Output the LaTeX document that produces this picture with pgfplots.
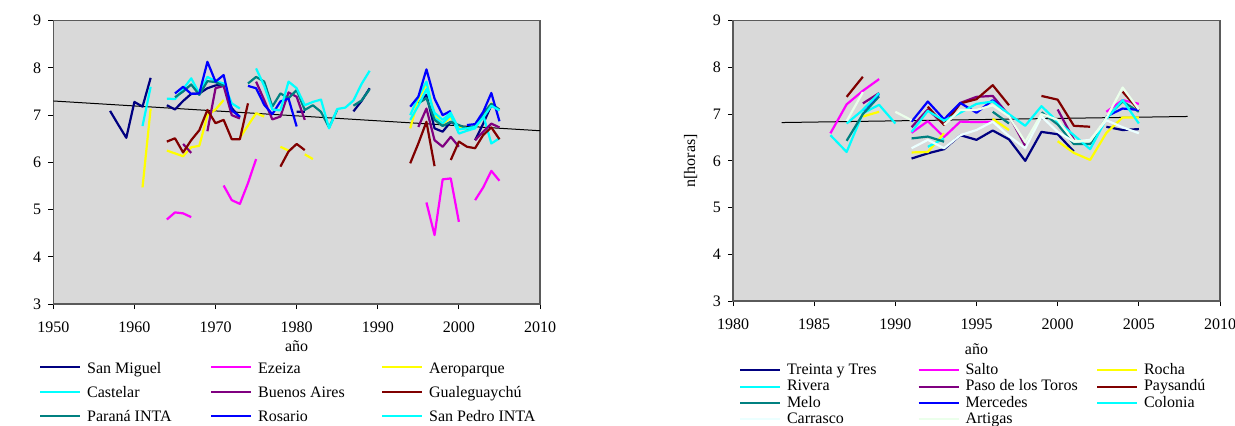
\documentclass[border=0pt]{standalone}
\usepackage{fontspec}
\setmainfont{Liberation Serif}
\usepackage{pgfplots}
\pgfplotsset{compat=1.18}

\definecolor{cNavy}{RGB}{0,0,128}
\definecolor{cMag}{RGB}{255,0,255}
\definecolor{cYel}{RGB}{255,255,0}
\definecolor{cCyan}{RGB}{0,255,255}
\definecolor{cPurp}{RGB}{128,0,128}
\definecolor{cMaroon}{RGB}{128,0,0}
\definecolor{cTeal}{RGB}{0,128,128}
\definecolor{cBlue}{RGB}{0,0,255}
\definecolor{cCarr}{RGB}{235,255,255}
\definecolor{cArt}{RGB}{235,255,235}
\definecolor{bgGray}{RGB}{217,217,217}
\definecolor{frameGray}{RGB}{90,90,90}

\pgfplotsset{
  base/.style={
    scale only axis,
    axis background/.style={fill=bgGray},
    axis line style={draw=frameGray, line width=0.6pt},
    tick align=outside,
    major tick length=2.5pt,
    tick style={draw=black, line width=0.5pt},
    xtick pos=bottom, ytick pos=left,
    ymin=3, ymax=9, ytick={3,4,5,6,7,8,9},
    /pgf/number format/assume math mode=true,
    /pgf/number format/1000 sep={},
    ticklabel style={font=\fontsize{8}{9.6}\selectfont},
    xticklabel style={yshift=-3pt},
    label style={font=\fontsize{8}{9.6}\selectfont},
    unbounded coords=jump,
    every axis plot/.append style={line width=1.1pt, line join=round},
    legend columns=3,
    legend image code/.code={\draw[##1,line width=1pt] (0pt,0pt) -- (20pt,0pt);},
  },
  trend/.style={black, line width=0.5pt, forget plot},
}

\begin{document}
\begin{tikzpicture}
\useasboundingbox (0,0) rectangle (617.5pt,212.5pt);

% ---------------- left panel ----------------
\begin{axis}[base,
  at={(26.65pt,60.5pt)}, anchor=south west,
  width=243.35pt, height=141.65pt,
  xmin=1950, xmax=2010, xtick={1950,1960,1970,1980,1990,2000,2010},
  xlabel={año}, xlabel style={yshift=3pt},
  legend style={at={(-0.0290,-0.1814)}, anchor=north west, draw=none, fill=none,
    inner sep=0pt, outer sep=0pt, row sep=0pt, column sep=0pt,
    font=\fontsize{8}{9.6}\selectfont,
    nodes={inner sep=0pt, text depth=3pt, text height=9.1pt}, cells={anchor=west}},
]
\addplot[trend] coordinates {(1950,7.30) (2010,6.67)};
\addplot[cNavy] coordinates {(1957,7.09)(1958,6.80)(1959,6.52)(1960,7.28)(1961,7.18)(1962,7.79)(1963,nan)(1964,7.21)(1965,7.12)(1966,7.30)(1967,7.45)(1968,7.46)(1969,7.57)(1970,7.63)(1971,7.64)(1972,7.15)(1973,6.95)(1974,nan)(1980,7.07)(1981,7.07)(1982,nan)(1987,7.08)(1988,7.30)(1989,7.57)(1990,nan)(1995,7.25)(1996,7.43)(1997,6.72)(1998,6.65)(1999,6.86)(2000,6.75)(2001,nan)(2002,6.47)(2003,6.82)(2004,7.21)(2005,7.11)};
\addlegendentry{\makebox[64.5pt][l]{\hspace{3pt}San Miguel}}
\addplot[cMag] coordinates {(1964,4.79)(1965,4.94)(1966,4.92)(1967,4.84)(1968,nan)(1971,5.51)(1972,5.20)(1973,5.12)(1974,5.56)(1975,6.07)(1976,nan)(1996,5.15)(1997,4.46)(1998,5.64)(1999,5.66)(2000,4.74)(2001,nan)(2002,5.20)(2003,5.47)(2004,5.82)(2005,5.61)};
\addlegendentry{\makebox[64.5pt][l]{\hspace{3pt}Ezeiza}}
\addplot[cYel] coordinates {(1961,5.47)(1962,7.14)(1963,nan)(1964,6.25)(1965,6.19)(1966,6.13)(1967,6.32)(1968,6.35)(1969,7.00)(1970,7.12)(1971,7.32)(1972,nan)(1973,6.52)(1974,6.78)(1975,7.04)(1976,6.97)(1977,nan)(1978,6.33)(1979,6.25)(1980,nan)(1981,6.17)(1982,6.07)(1983,nan)(1994,6.72)(1995,7.33)(1996,7.67)(1997,7.00)(1998,6.82)(1999,6.95)(2000,6.75)(2001,6.70)(2002,6.75)(2003,6.98)(2004,7.25)(2005,7.11)};
\addlegendentry{\makebox[64.5pt][l]{\hspace{3pt}Aeroparque}}
\addplot[cCyan] coordinates {(1961,6.77)(1962,7.60)(1963,nan)(1964,7.35)(1965,7.34)(1966,7.55)(1967,7.78)(1968,7.46)(1969,7.81)(1970,7.72)(1971,7.67)(1972,7.25)(1973,7.14)(1974,nan)(1994,7.00)(1995,7.39)(1996,7.71)(1997,6.94)(1998,6.83)(1999,7.00)(2000,6.61)(2001,6.67)(2002,6.72)(2003,7.00)(2004,6.40)(2005,6.51)};
\addlegendentry{\makebox[64.5pt][l]{\hspace{3pt}Castelar}}
\addplot[cPurp] coordinates {(1966,6.39)(1967,6.20)(1968,nan)(1969,6.66)(1970,7.57)(1971,7.62)(1972,7.00)(1973,6.93)(1974,nan)(1975,7.71)(1976,7.32)(1977,6.91)(1978,6.97)(1979,7.48)(1980,7.39)(1981,6.90)(1982,nan)(1995,6.75)(1996,7.14)(1997,6.47)(1998,6.33)(1999,6.54)(2000,6.33)(2001,nan)(2002,6.47)(2003,6.65)(2004,6.82)(2005,6.74)};
\addlegendentry{\makebox[64.5pt][l]{\hspace{3pt}Buenos Aires}}
\addplot[cMaroon] coordinates {(1964,6.44)(1965,6.51)(1966,6.21)(1967,6.47)(1968,6.68)(1969,7.11)(1970,6.83)(1971,6.90)(1972,6.49)(1973,6.49)(1974,7.25)(1975,nan)(1978,5.91)(1979,6.23)(1980,6.39)(1981,6.26)(1982,nan)(1994,5.98)(1995,6.40)(1996,6.86)(1997,5.92)(1998,nan)(1999,6.05)(2000,6.44)(2001,6.33)(2002,6.30)(2003,6.58)(2004,6.74)(2005,6.49)};
\addlegendentry{\makebox[64.5pt][l]{\hspace{3pt}Gualeguaychú}}
\addplot[cTeal] coordinates {(1965,7.38)(1966,7.50)(1967,7.65)(1968,7.43)(1969,7.72)(1970,7.70)(1971,7.62)(1972,nan)(1974,7.67)(1975,7.81)(1976,7.71)(1977,7.18)(1978,7.46)(1979,7.36)(1980,7.53)(1981,7.11)(1982,7.21)(1983,7.07)(1984,6.74)(1985,7.11)(1986,nan)(1987,7.20)(1988,7.31)(1989,7.55)(1990,nan)(1995,7.25)(1996,7.36)(1997,6.90)(1998,6.77)(1999,6.86)(2000,6.79)(2001,6.72)(2002,6.77)(2003,7.04)(2004,7.24)(2005,7.12)};
\addlegendentry{\makebox[64.5pt][l]{\hspace{3pt}Paraná INTA}}
\addplot[cBlue] coordinates {(1965,7.46)(1966,7.60)(1967,7.45)(1968,7.46)(1969,8.13)(1970,7.71)(1971,7.85)(1972,7.10)(1973,6.97)(1973.5,nan)(1974,7.62)(1975,7.57)(1976,7.22)(1977,7.02)(1978,7.29)(1979,7.35)(1980,6.76)(1981,nan)(1994,7.18)(1995,7.39)(1996,7.97)(1997,7.35)(1998,7.00)(1999,7.09)(2000,nan)(2001,6.79)(2002,6.81)(2003,7.07)(2004,7.47)(2005,6.87)};
\addlegendentry{\makebox[64.5pt][l]{\hspace{3pt}Rosario}}
\addplot[cCyan] coordinates {(1975,7.99)(1976,7.62)(1977,7.12)(1978,7.10)(1979,7.71)(1980,7.57)(1981,7.21)(1982,7.28)(1983,7.33)(1984,6.72)(1985,7.13)(1986,7.16)(1987,7.31)(1988,7.66)(1989,7.94)(1990,nan)(1994,6.90)(1995,7.20)(1996,7.55)(1997,7.05)(1998,6.90)(1999,7.05)(2000,6.70)(2001,6.72)(2002,6.75)(2003,6.95)(2004,7.20)(2005,7.10)};
\addlegendentry{\makebox[64.5pt][l]{\hspace{3pt}San Pedro INTA}}
\end{axis}

% ---------------- right panel ----------------
\begin{axis}[base,
  at={(366.5pt,62pt)}, anchor=south west,
  width=243.5pt, height=140.15pt,
  xmin=1980, xmax=2010, xtick={1980,1985,1990,1995,2000,2005,2010},
  xlabel={año}, ylabel={n[horas]},
  ylabel style={yshift=1pt},
  legend style={at={(0.0123,-0.2176)}, anchor=north west, draw=none, fill=none,
    inner sep=0pt, outer sep=0pt, row sep=0pt, column sep=0pt,
    font=\fontsize{8}{9.6}\selectfont,
    nodes={inner sep=0pt, text depth=2pt, text height=6.2pt}, cells={anchor=west}},
]
\addplot[trend] coordinates {(1983,6.82) (2008,6.95)};
\addplot[cNavy] coordinates {(1991,6.05)(1992,6.16)(1993,6.25)(1994,6.55)(1995,6.45)(1996,6.65)(1997,6.46)(1998,6.00)(1999,6.62)(2000,6.57)(2001,6.20)(2002,nan)(2003,6.73)(2004,6.66)(2005,6.68)};
\addlegendentry{\makebox[68.25pt][l]{\hspace{3pt}Treinta y Tres}}
\addplot[cMag] coordinates {(1986,6.59)(1987,7.21)(1988,7.50)(1989,7.75)(1990,nan)(1991,6.60)(1992,6.85)(1993,6.51)(1994,6.84)(1995,6.83)(1996,6.84)(1997,nan)(2003,7.05)(2004,7.30)(2005,7.22)};
\addlegendentry{\makebox[68.25pt][l]{\hspace{3pt}Salto}}
\addplot[cYel] coordinates {(1988,6.95)(1989,7.05)(1990,nan)(1991,6.18)(1992,6.19)(1993,6.59)(1994,nan)(1996,6.90)(1997,6.66)(1998,nan)(2000,6.42)(2001,6.17)(2002,6.02)(2003,6.60)(2004,6.93)(2005,6.93)};
\addlegendentry{\makebox[68.25pt][l]{\hspace{3pt}Rocha}}
\addplot[cCyan] coordinates {(1986,6.55)(1987,6.19)(1988,7.02)(1989,7.20)(1990,6.80)(1991,nan)(1992,6.30)(1993,6.48)};
\addlegendentry{\makebox[68.25pt][l]{\hspace{3pt}Rivera}}
\addplot[cPurp] coordinates {(1988,7.23)(1989,7.45)(1990,nan)(1991,6.72)(1992,7.10)(1993,6.78)(1994,7.24)(1995,7.37)(1996,7.39)(1997,6.97)(1998,6.32)(1999,nan)(2000,7.10)(2001,6.45)};
\addlegendentry{\makebox[68.25pt][l]{\hspace{3pt}Paso de los Toros}}
\addplot[cMaroon] coordinates {(1987,7.37)(1988,7.80)(1989,nan)(1992,7.16)(1993,6.77)(1994,7.23)(1995,7.32)(1996,7.62)(1997,7.19)(1998,nan)(1999,7.39)(2000,7.31)(2001,6.75)(2002,6.73)(2003,nan)(2004,7.48)(2005,7.09)};
\addlegendentry{\makebox[68.25pt][l]{\hspace{3pt}Paysandú}}
\addplot[cTeal] coordinates {(1987,6.43)(1988,7.00)(1989,7.38)(1990,nan)(1991,6.48)(1992,6.52)(1993,6.41)(1994,nan)(1996,7.05)(1997,6.80)(1998,nan)(1999,7.04)(2000,6.78)(2001,6.36)(2002,6.36)(2003,6.93)(2004,7.27)(2005,7.05)};
\addlegendentry{\makebox[68.25pt][l]{\hspace{3pt}Melo}}
\addplot[cBlue] coordinates {(1988,7.08)(1989,7.43)(1990,nan)(1991,6.84)(1992,7.27)(1993,6.89)(1994,7.24)(1995,7.03)(1996,7.30)(1997,6.98)(1998,nan)(2003,6.95)(2004,7.12)(2005,7.09)};
\addlegendentry{\makebox[68.25pt][l]{\hspace{3pt}Mercedes}}
\addplot[cCyan] coordinates {(1987,6.80)(1988,7.09)(1989,7.45)(1990,nan)(1991,6.62)(1992,7.07)(1993,6.86)(1994,7.03)(1995,7.22)(1996,7.27)(1997,7.00)(1998,6.75)(1999,7.17)(2000,6.84)(2001,6.55)(2002,6.25)(2003,6.90)(2004,7.30)(2005,6.80)};
\addlegendentry{\makebox[68.25pt][l]{\hspace{3pt}Colonia}}
\addplot[cCarr] coordinates {(1991,6.27)(1992,6.45)(1993,6.27)(1994,6.55)(1995,6.66)(1996,6.84)(1997,6.53)(1998,6.27)(1999,6.95)(2000,6.62)(2001,6.41)(2002,6.45)(2003,6.87)(2004,6.72)(2005,6.59)};
\addlegendentry{\makebox[68.25pt][l]{\hspace{3pt}Carrasco}}
\addplot[cArt] coordinates {(1987,6.85)(1988,7.47)(1989,nan)(1990,7.05)(1991,6.87)(1992,nan)(1993,6.77)(1994,7.09)(1995,7.09)(1996,7.19)(1997,6.95)(1998,6.40)(1999,7.00)(2000,6.88)(2001,6.42)(2002,6.42)(2003,6.92)(2004,7.57)(2005,7.10)};
\addlegendentry{\makebox[68.25pt][l]{\hspace{3pt}Artigas}}
\end{axis}
\end{tikzpicture}
\end{document}
